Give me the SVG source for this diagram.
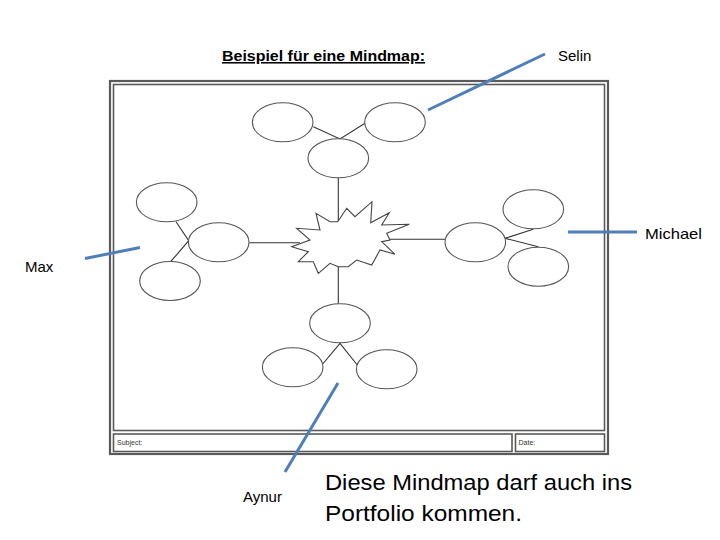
<svg xmlns="http://www.w3.org/2000/svg" width="720" height="540" viewBox="0 0 720 540">
<style>
.frame{fill:none;stroke:#5a5a5a}
.node ellipse{fill:#fff;stroke:#555;stroke-width:1.1}
.link{stroke:#333;stroke-width:1.1;fill:none}
.note{stroke:#4f7fb8;stroke-width:3;fill:none}
.lbl{font-family:"Liberation Sans",Arial,sans-serif;font-size:15px;fill:#000}
.small{font-family:"Liberation Sans",Arial,sans-serif;font-size:7px;fill:#333}
</style>
<rect width="720" height="540" fill="#fff"/>
<text x="222" y="61" font-family="Liberation Sans, Arial, sans-serif" font-size="15.5" font-weight="bold" text-decoration="underline" textLength="203" lengthAdjust="spacingAndGlyphs">Beispiel für eine Mindmap:</text>
<g id="sheet">
<rect class="frame" x="110" y="81" width="498" height="373" stroke-width="2.2"/>
<rect class="frame" x="113.5" y="84.5" width="491" height="346" stroke-width="1.6"/>
<rect class="frame" x="113.5" y="434" width="398.5" height="17.5" stroke-width="1.6"/>
<rect class="frame" x="515.5" y="434" width="89" height="17.5" stroke-width="1.6"/>
<text class="small" x="117" y="444.5">Subject:</text>
<text class="small" x="518.5" y="444.5">Date:</text>
</g>
<g id="connectors">
<path class="link" d="M313.3,126.7 L340,139 L365,123.3"/>
<path class="link" d="M338.3,177.5 V221.7"/>
<path class="link" d="M249.3,242.7 H300"/>
<path class="link" d="M176,221.7 L188.7,240.7 L170.7,261.7"/>
<path class="link" d="M390,239.3 H445"/>
<path class="link" d="M533.3,229.3 L505,238.3 L538.3,246.7"/>
<path class="link" d="M338.3,266.7 V304"/>
<path class="link" d="M322.7,364 L340,343.3 L357.3,365"/>
</g>
<g id="center">
<polygon points="337.7,221.7 346.7,208.3 355,216.7 372,201.7 370.7,222.7 389.3,212.7 381.7,225 409.3,224.3 386.7,233.3 390,240 381.7,241.7 395,254.3 380,250 371.7,265 356.7,260 348.3,266.7 338.3,266.7 330,263.3 318.3,273.3 313.3,261.7 298.3,261.7 308.3,251.7 291.7,246.7 310,240 296.7,228.3 320,230 316,213.3 330,221.7" fill="#fff" stroke="#444" stroke-width="1.1" stroke-linejoin="miter"/>
</g>
<g id="n-top-left" class="node"><ellipse cx="282.7" cy="122.3" rx="30.3" ry="19.5"/></g>
<g id="n-top-right" class="node"><ellipse cx="395" cy="122.3" rx="30.3" ry="19.5"/></g>
<g id="n-top" class="node"><ellipse cx="338.3" cy="158.3" rx="30.3" ry="19.5"/></g>
<g id="n-left-top" class="node"><ellipse cx="166.7" cy="202.3" rx="30.3" ry="19.5"/></g>
<g id="n-left" class="node"><ellipse cx="218.7" cy="242.3" rx="30.3" ry="19.5"/></g>
<g id="n-left-bottom" class="node"><ellipse cx="170" cy="281" rx="30.3" ry="19.5"/></g>
<g id="n-right" class="node"><ellipse cx="475.3" cy="242.3" rx="30.3" ry="19.5"/></g>
<g id="n-right-top" class="node"><ellipse cx="533.3" cy="209.3" rx="30.3" ry="19.5"/></g>
<g id="n-right-bottom" class="node"><ellipse cx="538.3" cy="266.7" rx="30.3" ry="19.5"/></g>
<g id="n-bottom" class="node"><ellipse cx="340" cy="323.3" rx="30.3" ry="19.5"/></g>
<g id="n-bottom-left" class="node"><ellipse cx="292.7" cy="367.3" rx="30.3" ry="19.5"/></g>
<g id="n-bottom-right" class="node"><ellipse cx="386.7" cy="369.3" rx="30.3" ry="19.5"/></g>
<g id="annotations">
<path class="note" d="M428,110 L545,54"/>
<path class="note" d="M568,232 H637"/>
<path class="note" d="M85,258.5 L140,247.5"/>
<path class="note" d="M338,383 L285,472"/>
<text class="lbl" x="558" y="61">Selin</text>
<text class="lbl" x="645" y="239" textLength="57" lengthAdjust="spacingAndGlyphs">Michael</text>
<text class="lbl" x="25" y="272">Max</text>
<text class="lbl" x="243" y="502">Aynur</text>
<text font-family="Liberation Sans, Arial, sans-serif" font-size="21.5" x="325" y="490" textLength="307" lengthAdjust="spacingAndGlyphs">Diese Mindmap darf auch ins</text>
<text font-family="Liberation Sans, Arial, sans-serif" font-size="21.5" x="325" y="521" textLength="197" lengthAdjust="spacingAndGlyphs">Portfolio kommen.</text>
</g>
</svg>
